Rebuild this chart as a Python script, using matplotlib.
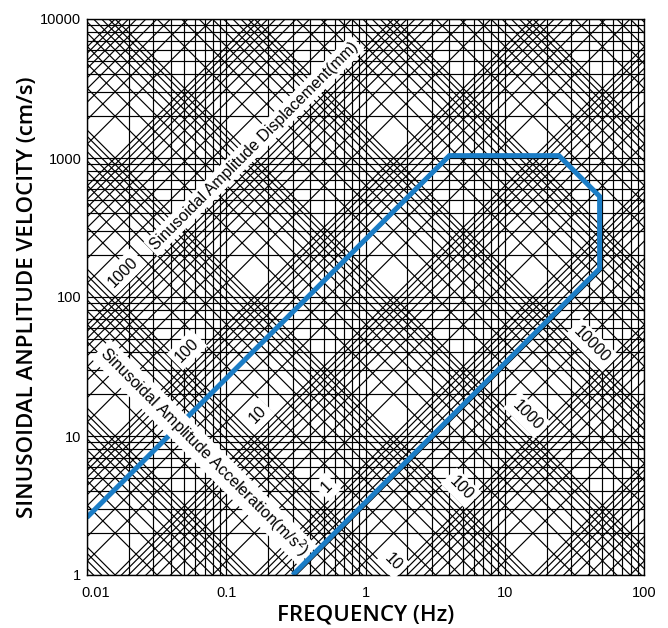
import numpy as np
import matplotlib
matplotlib.use('Agg')
import matplotlib.pyplot as plt
from matplotlib.ticker import LogLocator, NullFormatter, FixedLocator, FixedFormatter
from matplotlib.transforms import ScaledTranslation

# ---- data ----
freq_ticks = [0.01, 0.1, 1, 10, 100]
freq_tick_labels = ['0.01', '0.1', '1', '10', '100']
vel_ticks = [1, 10, 100, 1000, 10000]
vel_tick_labels = ['1', '10', '100', '1000', '10000']
mantissas = [1, 2, 3, 4, 5, 6, 7, 8, 9]
disp_decades = list(range(-3, 8))      # displacement lines, mm
acc_decades = list(range(-5, 6))       # acceleration lines, m/s^2

env_freq = [0.01, 4.0, 24.5, 48.0, 48.0, 0.30]
env_vel = [2.6, 1040, 1040, 530, 160, 1.0]

disp_labels = ['1000', '100', '10', '1']
acc_labels = ['10000', '1000', '100', '10']

# ---- figure ----
fig = plt.figure(figsize=(6.68, 6.28), dpi=100)
ax = fig.add_axes([87/668, 53/628, 557/668, 556/628])
ax.set_xscale('log')
ax.set_yscale('log')
ax.set_xlim(0.01, 100)
ax.set_ylim(1, 10000)

lw_grid = 0.85
ax.xaxis.set_major_locator(FixedLocator(freq_ticks))
ax.xaxis.set_major_formatter(FixedFormatter(freq_tick_labels))
ax.yaxis.set_major_locator(FixedLocator(vel_ticks))
ax.yaxis.set_major_formatter(FixedFormatter(vel_tick_labels))
ax.xaxis.set_minor_locator(LogLocator(base=10, subs=mantissas[1:], numticks=50))
ax.yaxis.set_minor_locator(LogLocator(base=10, subs=mantissas[1:], numticks=50))
ax.xaxis.set_minor_formatter(NullFormatter())
ax.yaxis.set_minor_formatter(NullFormatter())
ax.grid(which='both', color='black', lw=lw_grid)
ax.set_axisbelow(True)
ax.tick_params(which='both', length=0)

# diagonal lines: constant displacement & constant acceleration
fr = np.array([1e-3, 1e3])
for n in disp_decades:
    for k in mantissas:
        d = k * 10.0**n
        ax.plot(fr, 2*np.pi*fr*d/10.0, color='black', lw=lw_grid, zorder=1)
for n in acc_decades:
    for k in mantissas:
        a = k * 10.0**n
        ax.plot(fr, 100.0*a/(2*np.pi*fr), color='black', lw=lw_grid, zorder=1)

ax.set_xlim(0.01, 100)
ax.set_ylim(1, 10000)

# envelope
ax.plot(env_freq, env_vel, color='#1b7dc6', lw=3.6, zorder=3,
        solid_joinstyle='miter', solid_capstyle='butt')

for s in ax.spines.values():
    s.set_color('black')
    s.set_linewidth(1.0)
    s.set_zorder(5)

tfont = 'Liberation Sans'
box = dict(facecolor='white', edgecolor='none', pad=2.0)

ax.text(0.300, 0.772, 'Sinusoidal Amplitude Displacement(mm)', transform=ax.transAxes,
        rotation=45, ha='center', va='center', fontsize=11.5, family=tfont,
        bbox=box, zorder=6, rotation_mode='anchor')
ax.text(0.210, 0.221, 'Sinusoidal Amplitude Acceleration(m/s$^2$)', transform=ax.transAxes,
        rotation=-45, ha='center', va='center', fontsize=11.5, family=tfont,
        bbox=box, zorder=6, rotation_mode='anchor')

disp_pos = [(0.0646, 0.545), (0.1795, 0.4047), (0.307, 0.288), (0.431, 0.158)]
for lab, (px, py) in zip(disp_labels, disp_pos):
    ax.text(px, py, lab, transform=ax.transAxes, rotation=45, ha='center', va='center',
            fontsize=11.5, family=tfont, bbox=dict(facecolor='white', edgecolor='none', pad=3),
            zorder=6, rotation_mode='anchor')
acc_pos = [(0.9066, 0.4137), (0.790, 0.2878), (0.6715, 0.1565), (0.549, 0.0234)]
for lab, (px, py) in zip(acc_labels, acc_pos):
    ax.text(px, py, lab, transform=ax.transAxes, rotation=-45, ha='center', va='center',
            fontsize=11.5, family=tfont, bbox=dict(facecolor='white', edgecolor='none', pad=3),
            zorder=6, rotation_mode='anchor')

for lbl in ax.get_xticklabels() + ax.get_yticklabels():
    lbl.set_family(tfont)
    lbl.set_fontsize(10.5)
ax.tick_params(axis='x', pad=8)
ax.tick_params(axis='y', pad=4)
xl = ax.get_xticklabels()
xl[0].set_transform(xl[0].get_transform() + ScaledTranslation(9/100, 0, fig.dpi_scale_trans))

ax.set_xlabel('FREQUENCY (Hz)', fontsize=16, family='Open Sans', fontweight='semibold', labelpad=3.5)
ax.set_ylabel('SINUSOIDAL ANPLITUDE VELOCITY (cm/s)', fontsize=16, family='Open Sans',
              fontweight='semibold', labelpad=1.5)

fig.savefig('out.png', dpi=100)
